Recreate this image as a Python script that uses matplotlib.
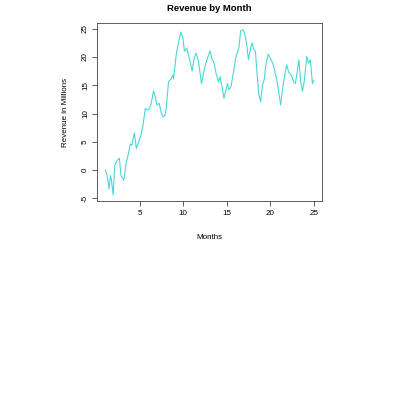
import matplotlib
matplotlib.use("Agg")
import matplotlib.pyplot as plt

# values
months = [1.07, 1.26, 1.49, 1.64, 1.76, 1.95, 2.14, 2.40, 2.67, 2.86,
          3.17, 3.47, 3.66, 3.93, 4.12, 4.39, 4.62, 4.89, 5.15, 5.38,
          5.65, 5.92, 6.15, 6.30, 6.60, 6.79, 6.98, 7.25, 7.44, 7.67,
          7.90, 8.05, 8.32, 8.59, 8.82, 8.89, 9.20, 9.35, 9.58, 9.73,
          9.96, 10.15, 10.42, 10.65, 10.88, 11.03, 11.26, 11.49, 11.76, 12.10,
          12.33, 12.56, 12.79, 13.09, 13.28, 13.55, 13.78, 14.05, 14.24, 14.43,
          14.69, 15.08, 15.27, 15.50, 15.76, 16.03, 16.20, 16.40, 16.60, 16.87,
          17.06, 17.30, 17.50, 17.75, 17.94, 18.10, 18.30, 18.50, 18.70, 18.90,
          19.10, 19.30, 19.50, 19.77, 20.00, 20.30, 20.50, 20.80, 21.00, 21.20,
          21.40, 21.60, 21.90, 22.10, 22.40, 22.70, 22.90, 23.30, 23.50, 23.70,
          23.90, 24.20, 24.40, 24.60, 24.70, 24.85, 25.00]
revenue = [0.0, -0.9, -3.3, -1.0, -1.8, -4.4, 0.8, 1.7, 2.1, -1.0,
           -1.8, 1.4, 2.6, 4.6, 4.4, 6.6, 3.8, 5.0, 6.2, 7.9,
           10.9, 10.6, 10.9, 11.6, 14.0, 13.0, 11.5, 11.8, 10.3, 9.4,
           9.6, 10.9, 15.6, 16.1, 16.8, 16.1, 20.4, 21.6, 23.4, 24.4,
           23.4, 21.0, 21.6, 20.1, 18.6, 17.5, 19.8, 20.7, 19.2, 15.3,
           17.1, 18.6, 19.8, 21.1, 19.8, 18.9, 17.1, 15.6, 16.5, 15.0,
           12.7, 15.3, 14.2, 14.8, 17.1, 19.8, 20.7, 21.6, 24.6, 24.8,
           24.2, 22.2, 19.5, 21.6, 22.5, 21.3, 21.0, 16.8, 13.3, 12.1,
           15.0, 15.9, 18.6, 20.5, 19.8, 18.9, 17.7, 15.6, 13.6, 11.5,
           14.2, 16.2, 18.6, 17.4, 16.8, 15.6, 15.3, 19.5, 15.6, 13.9,
           15.6, 20.1, 18.9, 19.5, 18.0, 15.3, 15.9]
xticks = [5, 10, 15, 20, 25]
yticks = [-5, 0, 5, 10, 15, 20, 25]

plt.rcParams['font.family'] = ['Liberation Sans', 'DejaVu Sans']

fig = plt.figure(figsize=(4.0, 3.96), dpi=100)
ax = fig.add_axes([0.2425, 0.4924, 0.5625, 0.4495])
ax.plot(months, revenue, color='#48D8D8', linewidth=0.8)
ax.set_xlim(0.1, 25.95)
ax.set_ylim(-5.47, 26.0)
ax.set_xticks(xticks)
ax.set_yticks(yticks)
ax.set_yticklabels([str(v) for v in yticks], rotation=90, va='center')
ax.tick_params(direction='out', length=3.8, width=0.6, labelsize=5.8, pad=3,
               color='#444444')
ax.tick_params(axis='y', pad=2)
for s in ax.spines.values():
    s.set_linewidth(0.6)
    s.set_color('#444444')
ax.set_title('Revenue by Month', fontsize=6.8, fontweight='bold', pad=9)
ax.set_xlabel('Months', fontsize=5.8, labelpad=12)
ax.set_ylabel('Revenue in Millions', fontsize=5.8, labelpad=9)

fig.savefig('out.png', dpi=100)
